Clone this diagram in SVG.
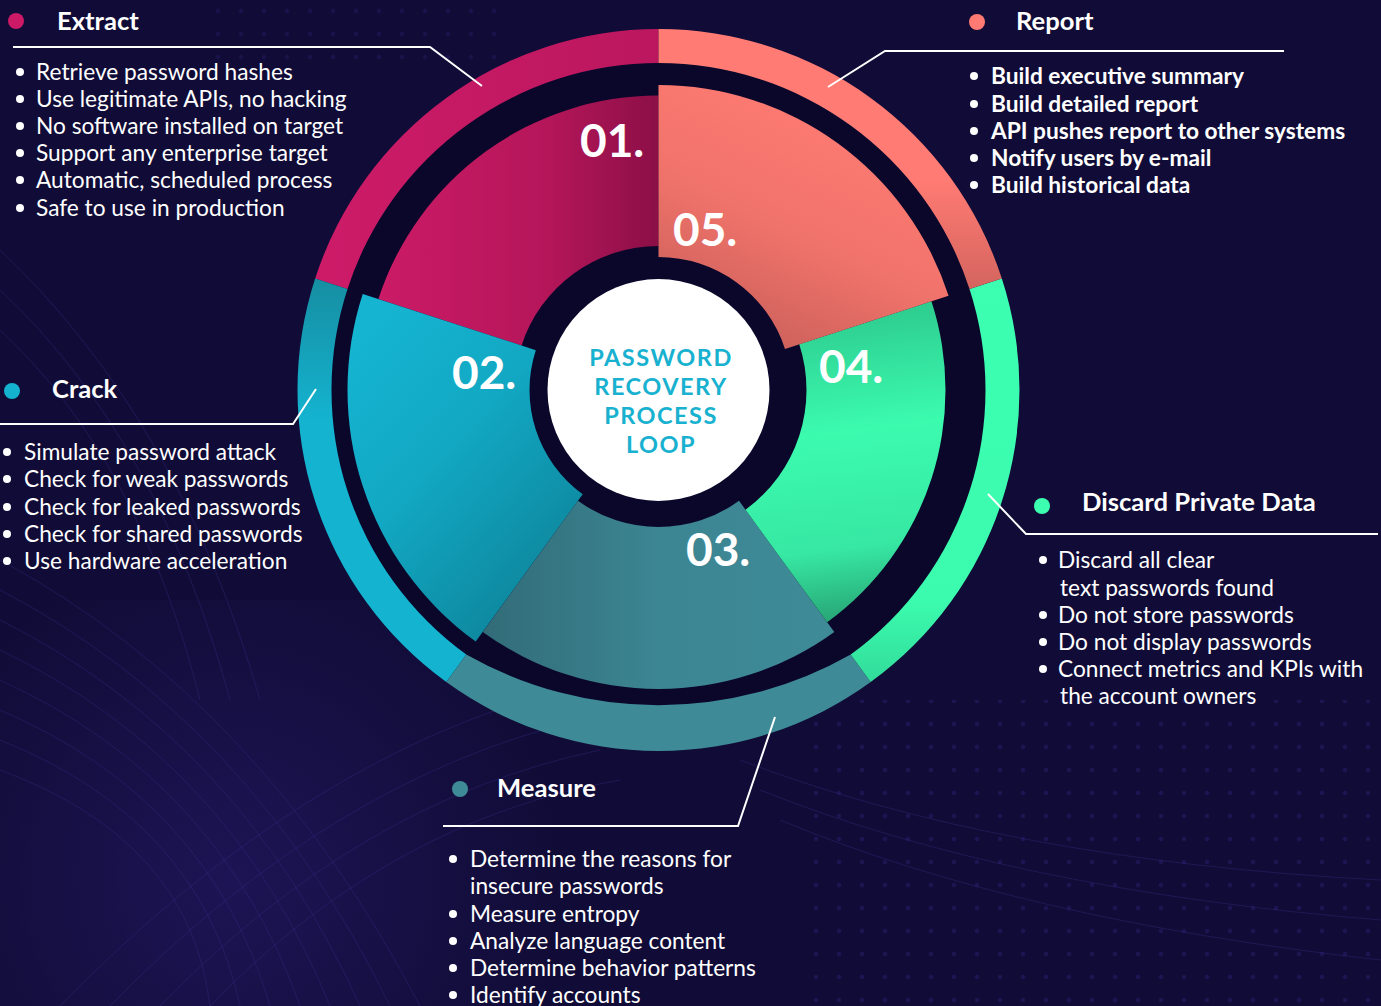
<svg xmlns="http://www.w3.org/2000/svg" width="1381" height="1006" viewBox="0 0 1381 1006">
<defs>
<style>
text{font-family:Lato,"Liberation Sans",sans-serif;fill:#ffffff}
.title{font-size:25.6px;font-weight:700}
.item{font-size:22.7px;font-weight:400}
.itemb{font-size:22.7px;font-weight:700}
.num{font-size:46px;font-weight:700}
.center{font-size:23.5px;font-weight:700;fill:#19b1d0;letter-spacing:1.5px;text-anchor:middle}
.lead{fill:none;stroke:#ffffff;stroke-width:2}
.bul{fill:#ffffff}
.bg{fill:none;stroke:#3a2f8a;stroke-width:1;opacity:0.35}
</style>
<linearGradient id="g01" x1="378" y1="0" x2="658" y2="0" gradientUnits="userSpaceOnUse">
<stop offset="0" stop-color="#cb1b66"/><stop offset="0.6" stop-color="#b5165a"/><stop offset="1" stop-color="#8c0f47"/>
</linearGradient>
<linearGradient id="g05" x1="820" y1="90" x2="700" y2="345" gradientUnits="userSpaceOnUse">
<stop offset="0" stop-color="#ff7b73"/><stop offset="0.5" stop-color="#f0736b"/><stop offset="1" stop-color="#c45d57"/>
</linearGradient>
<linearGradient id="g04" x1="820" y1="300" x2="860" y2="630" gradientUnits="userSpaceOnUse">
<stop offset="0" stop-color="#2cc68b"/><stop offset="0.4" stop-color="#3bfbaf"/><stop offset="0.75" stop-color="#37e8a3"/><stop offset="1" stop-color="#259b6e"/>
</linearGradient>
<linearGradient id="g03" x1="480" y1="0" x2="835" y2="0" gradientUnits="userSpaceOnUse">
<stop offset="0" stop-color="#326b78"/><stop offset="0.5" stop-color="#3c8592"/><stop offset="1" stop-color="#3e8b97"/>
</linearGradient>
<linearGradient id="g02" x1="360" y1="320" x2="580" y2="520" gradientUnits="userSpaceOnUse">
<stop offset="0" stop-color="#15b5d2"/><stop offset="0.5" stop-color="#12a8c3"/><stop offset="1" stop-color="#0e8ba2"/>
</linearGradient>
<linearGradient id="r02" x1="0" y1="280" x2="0" y2="420" gradientUnits="userSpaceOnUse">
<stop offset="0" stop-color="#168ea2"/><stop offset="1" stop-color="#14b3d0"/>
</linearGradient>
<linearGradient id="r05" x1="0" y1="180" x2="0" y2="292" gradientUnits="userSpaceOnUse">
<stop offset="0" stop-color="#ff7b73"/><stop offset="1" stop-color="#d3645e"/>
</linearGradient>
<linearGradient id="r01" x1="315" y1="0" x2="658" y2="0" gradientUnits="userSpaceOnUse">
<stop offset="0" stop-color="#cd1b68"/><stop offset="1" stop-color="#bb175f"/>
</linearGradient>
<linearGradient id="r04" x1="0" y1="280" x2="0" y2="682" gradientUnits="userSpaceOnUse">
<stop offset="0" stop-color="#3cffb1"/><stop offset="0.8" stop-color="#3bfbae"/><stop offset="1" stop-color="#32dc9a"/>
</linearGradient>
<pattern id="dots" x="0" y="0" width="23" height="23" patternUnits="userSpaceOnUse">
<circle cx="11" cy="11" r="2.2" fill="#2d2784"/>
</pattern>
<radialGradient id="glow" cx="230" cy="880" r="330" gradientUnits="userSpaceOnUse">
<stop offset="0" stop-color="#2a1f78" stop-opacity="0.45"/><stop offset="1" stop-color="#2a1f78" stop-opacity="0"/>
</radialGradient>
</defs>

<g id="background">
<rect x="0" y="0" width="1381" height="1006" fill="#110c37"/>
<rect x="0" y="600" width="700" height="406" fill="url(#glow)"/>
<rect x="800" y="700" width="581" height="306" fill="url(#dots)" opacity="0.35"/>
<rect x="200" y="0" width="300" height="60" fill="url(#dots)" opacity="0.25"/>
<path class="bg" d="M0,560 Q260,700 420,1006"/>
<path class="bg" d="M0,590 Q250,720 390,1006"/>
<path class="bg" d="M0,620 Q240,740 360,1006"/>
<path class="bg" d="M0,650 Q230,760 330,1006"/>
<path class="bg" d="M0,680 Q220,780 300,1006"/>
<path class="bg" d="M0,710 Q210,800 270,1006"/>
<path class="bg" d="M0,740 Q200,820 240,1006"/>
<path class="bg" d="M0,770 Q190,840 210,1006"/>
<path class="bg" d="M60,1006 Q300,760 560,690"/>
<path class="bg" d="M110,1006 Q330,780 580,720"/>
<path class="bg" d="M160,1006 Q360,800 600,750"/>
<path class="bg" d="M210,1006 Q390,820 620,780"/>
<path class="bg" d="M0,250 Q180,420 260,700"/>
<path class="bg" d="M0,290 Q160,440 230,700"/>
<path class="bg" d="M0,330 Q140,460 200,700"/>
<path class="bg" d="M740,760 Q1000,860 1381,880"/>
<path class="bg" d="M760,790 Q1010,890 1381,920"/>
<path class="bg" d="M780,820 Q1020,920 1381,960"/>
</g>

<circle id="dark-disc" cx="658.5" cy="390" r="328" fill="#0b072b"/>

<g id="step01-extract">
<path d="M315.17,278.45 A361,361 0 0 1 658.5,29 L658.5,63 A327,327 0 0 0 347.5,288.95 Z" fill="url(#r01)"/>
<path d="M378.41,298.99 A294.5,294.5 0 0 1 658.5,95.5 L658.5,246 A144,144 0 0 0 521.55,345.5 Z" fill="url(#g01)"/>
<text class="num" x="580" y="157">01.</text>
<circle cx="16" cy="21" r="8" fill="#cc1a66"/>
<text class="title" x="57" y="30">Extract</text>
<circle class="bul" cx="20" cy="72" r="4"/><text class="item" x="36" y="80">Retrieve password hashes</text>
<circle class="bul" cx="20" cy="99" r="4"/><text class="item" x="36" y="107">Use legitimate APIs, no hacking</text>
<circle class="bul" cx="20" cy="126" r="4"/><text class="item" x="36" y="134">No software installed on target</text>
<circle class="bul" cx="20" cy="153" r="4"/><text class="item" x="36" y="161">Support any enterprise target</text>
<circle class="bul" cx="20" cy="180" r="4"/><text class="item" x="36" y="188">Automatic, scheduled process</text>
<circle class="bul" cx="20" cy="208" r="4"/><text class="item" x="36" y="216">Safe to use in production</text>
</g>

<g id="step02-crack">
<path d="M446.31,682.06 A361,361 0 0 1 315.17,278.45 L347.5,288.95 A327,327 0 0 0 466.29,654.55 Z" fill="url(#r02)"/>
<path d="M475.7,641.6 A311,311 0 0 1 362.72,293.9 L535.81,350.14 A129,129 0 0 0 582.68,494.36 Z" fill="url(#g02)"/>
<text class="num" x="452" y="389">02.</text>
<circle cx="12" cy="391" r="8" fill="#14b2cf"/>
<text class="title" x="52" y="398">Crack</text>
<circle class="bul" cx="7" cy="452" r="4"/><text class="item" x="24" y="460">Simulate password attack</text>
<circle class="bul" cx="7" cy="479" r="4"/><text class="item" x="24" y="487">Check for weak passwords</text>
<circle class="bul" cx="7" cy="507" r="4"/><text class="item" x="24" y="515">Check for leaked passwords</text>
<circle class="bul" cx="7" cy="534" r="4"/><text class="item" x="24" y="542">Check for shared passwords</text>
<circle class="bul" cx="7" cy="561" r="4"/><text class="item" x="24" y="569">Use hardware acceleration</text>
</g>

<g id="step03-measure">
<path d="M870.69,682.06 A361,361 0 0 1 446.31,682.06 L466.29,654.55 A390,390 0 0 0 850.71,654.55 Z" fill="#3e8b97"/>
<path d="M834.25,631.9 A299,299 0 0 1 482.75,631.9 L577.97,500.84 A137,137 0 0 0 739.03,500.84 Z" fill="url(#g03)"/>
<text class="num" x="686" y="566">03.</text>
<circle cx="460" cy="789" r="8" fill="#3e8b97"/>
<text class="title" x="497" y="797">Measure</text>
<circle class="bul" cx="453" cy="859" r="4"/><text class="item" x="470" y="867">Determine the reasons for</text>
<text class="item" x="470" y="894">insecure passwords</text>
<circle class="bul" cx="453" cy="914" r="4"/><text class="item" x="470" y="922">Measure entropy</text>
<circle class="bul" cx="453" cy="941" r="4"/><text class="item" x="470" y="949">Analyze language content</text>
<circle class="bul" cx="453" cy="968" r="4"/><text class="item" x="470" y="976">Determine behavior patterns</text>
<circle class="bul" cx="453" cy="995" r="4"/><text class="item" x="470" y="1003">Identify accounts</text>
</g>

<g id="step04-discard">
<path d="M1001.83,278.45 A361,361 0 0 1 870.69,682.06 L850.71,654.55 A327,327 0 0 0 969.5,288.95 Z" fill="url(#r04)"/>
<path d="M931.45,301.31 A287,287 0 0 1 827.19,622.19 L745.49,509.73 A148,148 0 0 0 799.26,344.27 Z" fill="url(#g04)"/>
<text class="num" x="819" y="383">04.</text>
<circle cx="1042" cy="506" r="8" fill="#3cffb0"/>
<text class="title" x="1082" y="511">Discard Private Data</text>
<circle class="bul" cx="1043" cy="560" r="4"/><text class="item" x="1058" y="568">Discard all clear</text>
<text class="item" x="1060" y="596">text passwords found</text>
<circle class="bul" cx="1043" cy="615" r="4"/><text class="item" x="1058" y="623">Do not store passwords</text>
<circle class="bul" cx="1043" cy="642" r="4"/><text class="item" x="1058" y="650">Do not display passwords</text>
<circle class="bul" cx="1043" cy="669" r="4"/><text class="item" x="1058" y="677">Connect metrics and KPIs with</text>
<text class="item" x="1060" y="704">the account owners</text>
</g>

<g id="step05-report">
<path d="M658.5,29 A361,361 0 0 1 1001.83,278.45 L969.5,288.95 A327,327 0 0 0 658.5,63 Z" fill="url(#r05)"/>
<path d="M658.5,85 A305,305 0 0 1 948.57,295.75 L784.99,348.9 A133,133 0 0 0 658.5,257 Z" fill="url(#g05)"/>
<text class="num" x="673" y="246">05.</text>
<circle cx="977" cy="22" r="8" fill="#ff7a72"/>
<text class="title" x="1016" y="30">Report</text>
<circle class="bul" cx="974" cy="76" r="4"/><text class="itemb" x="991" y="84">Build executive summary</text>
<circle class="bul" cx="974" cy="104" r="4"/><text class="itemb" x="991" y="112">Build detailed report</text>
<circle class="bul" cx="974" cy="131" r="4"/><text class="itemb" x="991" y="139">API pushes report to other systems</text>
<circle class="bul" cx="974" cy="158" r="4"/><text class="itemb" x="991" y="166">Notify users by e-mail</text>
<circle class="bul" cx="974" cy="185" r="4"/><text class="itemb" x="991" y="193">Build historical data</text>
</g>

<g id="center">
<circle cx="658.5" cy="390" r="111" fill="#ffffff"/>
<text class="center" x="661" y="366">PASSWORD</text>
<text class="center" x="661" y="395">RECOVERY</text>
<text class="center" x="661" y="424">PROCESS</text>
<text class="center" x="661" y="453">LOOP</text>
</g>

<g id="connectors">
<polyline class="lead" points="13,47 430,47 482,86"/>
<polyline class="lead" points="828,87 885,51 1284,51"/>
<polyline class="lead" points="0,424 293,424 316,389"/>
<polyline class="lead" points="988,494 1026,534 1378,534"/>
<polyline class="lead" points="443,826 738,826 775,717"/>
</g>
</svg>
